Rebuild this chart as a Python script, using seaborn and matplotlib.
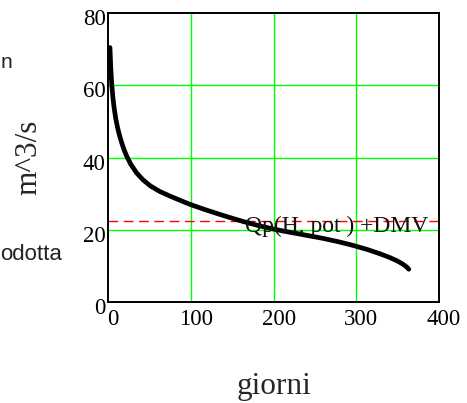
import matplotlib
matplotlib.use("Agg")
import matplotlib.pyplot as plt
from matplotlib.transforms import ScaledTranslation
import seaborn as sns
import pandas as pd

# ---- data ----
days = [2, 3, 4.1, 5.5, 6.9, 9, 11.3, 13.5, 16.2, 19, 22.2, 27, 34.3, 42, 51, 62,
        74.6, 86, 98.8, 115, 131, 147, 163, 181, 198.8, 215, 231.8, 246, 260,
        278, 296.3, 313, 328.5, 340, 348.7, 355, 358.8, 361.5, 363.5]
flow = [70.5, 64.8, 60.5, 56.8, 54.0, 50.8, 48.2, 46.2, 44.1, 42.2, 40.4, 38.2,
        35.7, 33.8, 32.1, 30.6, 29.3, 28.2, 27.0, 25.7, 24.5, 23.35, 22.25,
        21.15, 20.2, 19.45, 18.75, 18.15, 17.55, 16.65, 15.6, 14.5, 13.3, 12.3,
        11.4, 10.6, 10.0, 9.5, 9.0]
dmv_level = 22.4
x_ticks = [0, 100, 200, 300, 400]
y_ticks = [0, 20, 40, 60, 80]
x_grid = [100, 200, 300]
y_grid = [20, 40, 60]
annotation = "Qp(H, pot ) +DMV"
x_label = "giorni"
y_label = "m^3/s"
side_texts = ["n", "odotta"]

df = pd.DataFrame({"giorni": days, "portata": flow})

sns.set_theme(style="white")
serif = ["Liberation Serif", "DejaVu Serif"]
plt.rcParams["font.family"] = serif

fig = plt.figure(figsize=(4.67, 4.03), dpi=100)
ax = fig.add_axes([108.3 / 467, 1 - 301.7 / 403, 330.7 / 467, 288.4 / 403])

for g in y_grid:
    ax.axhline(g, color="#00ff00", lw=1.0, zorder=1)
for g in x_grid:
    ax.axvline(g, color="#00ff00", lw=1.0, zorder=1)

ax.axhline(dmv_level, color="#ff0000", lw=1.0, dashes=(7, 4), zorder=2)

sns.lineplot(data=df, x="giorni", y="portata", ax=ax, color="black", lw=3.4,
             sort=False, estimator=None, zorder=3,
             solid_capstyle="round", solid_joinstyle="round")

ax.text(165, 19.3, annotation, fontsize=17, color="#111111", va="baseline",
        ha="left", zorder=4, family=serif)

ax.set_xlim(0, 400)
ax.set_ylim(0, 80)
ax.set_xticks(x_ticks)
ax.set_yticks(y_ticks)
ax.set_xticklabels([str(v) for v in x_ticks], fontsize=16.5, family=serif)
ax.set_yticklabels([str(v) for v in y_ticks], fontsize=16.5, family=serif)
ax.tick_params(axis="both", length=0, colors="black")
ax.tick_params(axis="x", pad=5)
ax.tick_params(axis="y", pad=2)
for lab in ax.get_xticklabels():
    lab.set_transform(lab.get_transform() + ScaledTranslation(0.05, 0, fig.dpi_scale_trans))
for lab in ax.get_yticklabels():
    lab.set_transform(lab.get_transform() + ScaledTranslation(0, -0.04, fig.dpi_scale_trans))

for s in ax.spines.values():
    s.set_visible(True)
    s.set_color("black")
    s.set_linewidth(1.4)
    s.set_zorder(5)

ax.set_xlabel(x_label, fontsize=22.5, va="baseline", family=serif)
ax.xaxis.set_label_coords(0.5, (301.7 - 394) / 288.4)
ax.set_ylabel(y_label, fontsize=22.5, va="center", ha="center", family=serif)
ax.yaxis.set_label_coords((29 - 108.3) / 330.7, (301.7 - 157) / 288.4)

# partial legend texts seen at the left edge of the reference
fig.text(0.5 / 467, 1 - 68 / 403, side_texts[0], fontsize=15,
         family=["Liberation Sans"], ha="left", va="baseline", color="#222222")
fig.text(0.5 / 467, 1 - 260 / 403, side_texts[1], fontsize=16,
         family=["Liberation Sans"], ha="left", va="baseline", color="#222222")

fig.savefig("out.png", dpi=100)
